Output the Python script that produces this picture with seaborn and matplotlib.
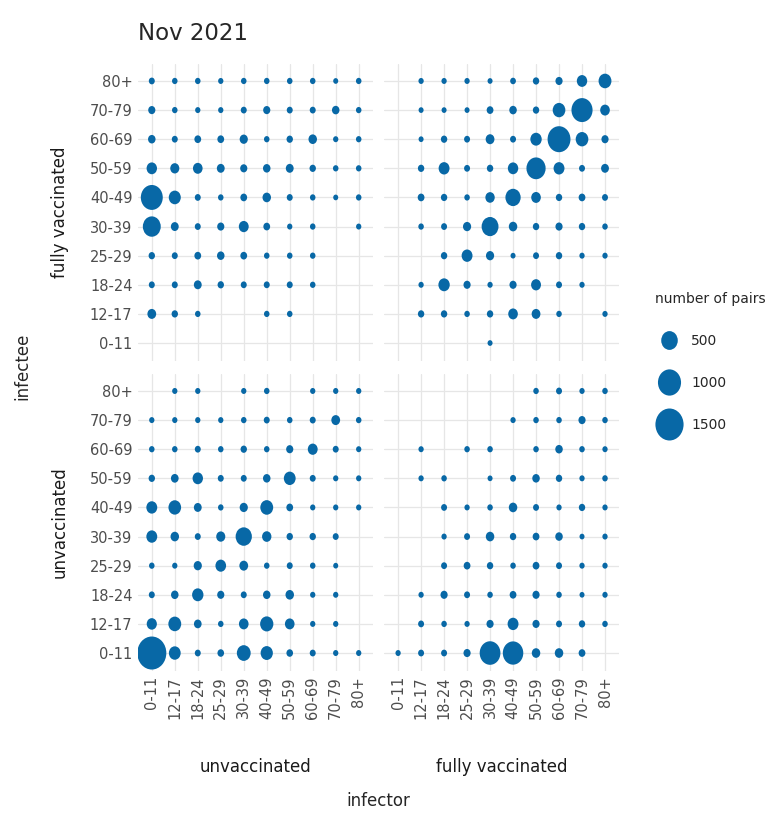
import numpy as np
import pandas as pd
import matplotlib
matplotlib.use("Agg")
import matplotlib.pyplot as plt
import seaborn as sns
from matplotlib.path import Path
from matplotlib.transforms import Affine2D
from matplotlib.lines import Line2D

# ---------------- data ----------------
ages = ["0-11", "12-17", "18-24", "25-29", "30-39", "40-49", "50-59", "60-69", "70-79", "80+"]
statuses = ["unvaccinated", "fully vaccinated"]
title = "Nov 2021"
legend_values = [500, 1000, 1500]
legend_title = "number of pairs"

# rows = infectee age (0-11 ... 80+), columns = infector age (0-11 ... 80+)
N = None
# infectee fully vaccinated, infector unvaccinated
fv_from_unvax = [
    [N, N, N, N, N, N, N, N, N, N],
    [120, 50, 30, N, N, 30, 30, N, N, N],
    [40, 40, 90, 50, 40, 40, 40, 30, N, N],
    [50, 40, 60, 80, 60, 30, 30, 30, N, N],
    [590, 90, 40, 70, 160, 60, 25, 30, N, 25],
    [900, 250, 40, 30, 60, 110, 40, 30, 20, 30],
    [180, 130, 150, 90, 70, 80, 90, 50, 30, 30],
    [80, 40, 60, 60, 100, 30, 50, 110, 25, 30],
    [70, 30, 25, 25, 40, 70, 40, 40, 80, 30],
    [40, 30, 30, 25, 30, 30, 30, 30, 20, 30],
]
# infectee fully vaccinated, infector fully vaccinated
fv_from_fv = [
    [N, N, N, N, 20, N, N, N, N, N],
    [N, 50, 50, 30, 50, 150, 120, 30, N, 25],
    [N, 25, 220, 70, 25, 70, 160, 40, 25, N],
    [N, N, 50, 200, 100, 20, 40, 50, 25, 25],
    [N, 30, 40, 100, 520, 110, 50, 70, 50, 30],
    [N, 60, 50, 30, 140, 420, 150, 50, 60, 40],
    [N, 50, 200, 40, 50, 180, 680, 200, 40, 90],
    [N, 20, 50, 40, 120, 40, 220, 980, 280, 70],
    [N, 20, 20, 20, 60, 80, 50, 280, 830, 150],
    [N, 25, 25, 25, 20, 35, 50, 70, 180, 290],
]
# infectee unvaccinated, infector unvaccinated
unvax_from_unvax = [
    [1600, 240, 40, 56, 340, 260, 56, 40, 25, 25],
    [170, 290, 85, 30, 150, 310, 150, 25, 25, N],
    [40, 80, 220, 70, 40, 80, 110, 25, 25, N],
    [30, 25, 100, 190, 120, 30, 40, 30, 20, N],
    [200, 110, 40, 130, 480, 140, 50, 50, 40, N],
    [200, 280, 90, 30, 100, 290, 60, 25, 25, 25],
    [50, 85, 180, 40, 40, 80, 240, 40, 25, 25],
    [30, 30, 40, 30, 50, 30, 70, 160, 40, 25],
    [25, 25, 25, 25, 30, 40, 30, 40, 120, 30],
    [N, 25, 25, N, 25, 30, N, 25, 25, 25],
]
# infectee unvaccinated, infector fully vaccinated
unvax_from_fv = [
    [25, 40, 40, 70, 800, 780, 110, 110, 60, N],
    [N, 40, 30, 25, 70, 200, 70, 40, 50, 30],
    [N, 25, 70, 40, 30, 60, 70, 30, 20, 25],
    [N, N, 40, 60, 50, 30, 60, 40, 25, 25],
    [N, N, 25, 40, 110, 50, 60, 80, 20, 25],
    [N, N, 40, 25, 30, 110, 40, 25, 50, 25],
    [N, 25, 30, N, 20, 40, 80, 50, 25, 30],
    [N, 25, N, 30, 30, N, 30, 80, 30, 25],
    [N, N, N, N, N, 25, 30, 30, 70, 30],
    [N, N, N, N, N, N, 30, 40, 25, 30],
]

panels = {
    ("fully vaccinated", "unvaccinated"): fv_from_unvax,
    ("fully vaccinated", "fully vaccinated"): fv_from_fv,
    ("unvaccinated", "unvaccinated"): unvax_from_unvax,
    ("unvaccinated", "fully vaccinated"): unvax_from_fv,
}

records = []
for (infectee_status, infector_status), grid in panels.items():
    for i, row in enumerate(grid):
        for j, v in enumerate(row):
            if v is not None:
                records.append(dict(infectee_status=infectee_status,
                                    infector_status=infector_status,
                                    infectee_age=ages[i], infector_age=ages[j],
                                    pairs=v))
df = pd.DataFrame(records)
pos = {a: k for k, a in enumerate(ages)}
df["x"] = df["infector_age"].map(pos)
df["y"] = df["infectee_age"].map(pos)

# ---------------- style ----------------
sns.set_theme(style="white")
plt.rcParams["font.family"] = ["DejaVu Sans"]

BLUE = "#0868a6"
TICK_COL = "#4d4d4d"
SIZES = (10, 600)
NORM = (0, 1700)

ell = Path.unit_circle().transformed(Affine2D().scale(0.88, 1.0))

W, H = 781, 816
fig = plt.figure(figsize=(W / 100, H / 100), dpi=100)

col_left = {"unvaccinated": 138, "fully vaccinated": 384.3}
row_top = {"fully vaccinated": 63.5, "unvaccinated": 373.5}
pw, ph = 234.5, 297

for row_status in ["fully vaccinated", "unvaccinated"]:
    for col_status in statuses:
        l = col_left[col_status]
        t = row_top[row_status]
        ax = fig.add_axes([l / W, 1 - (t + ph) / H, pw / W, ph / H])
        sub = df[(df.infectee_status == row_status) & (df.infector_status == col_status)]
        sns.scatterplot(data=sub, x="x", y="y", size="pairs", sizes=SIZES,
                        size_norm=NORM, color=BLUE, marker=ell, linewidth=0,
                        edgecolor="none", legend=False, ax=ax, zorder=3)
        ax.set_xlim(-0.6, 9.6)
        ax.set_ylim(-0.6, 9.6)
        ax.set_xticks(range(len(ages)))
        ax.set_yticks(range(len(ages)))
        ax.grid(True, color="#e6e6e6", lw=0.9)
        ax.set_axisbelow(True)
        for sp in ax.spines.values():
            sp.set_visible(False)
        ax.set_xlabel("")
        ax.set_ylabel("")
        ax.tick_params(length=0, labelsize=10.5, labelcolor=TICK_COL)
        if col_status == "unvaccinated":
            ax.set_yticklabels(ages)
            ax.tick_params(axis="y", pad=4)
        else:
            ax.set_yticklabels([])
        if row_status == "unvaccinated":
            ax.set_xticklabels(ages, rotation=90)
            ax.tick_params(axis="x", pad=4)
        else:
            ax.set_xticklabels([])

# strip labels (columns, bottom)
for col_status in statuses:
    cx = (col_left[col_status] + pw / 2) / W
    fig.text(cx, 1 - 767 / H, col_status, ha="center", va="center",
             fontsize=12, color="#1a1a1a")
# strip labels (rows, left)
for row_status in ["fully vaccinated", "unvaccinated"]:
    cy = 1 - (row_top[row_status] + ph / 2) / H
    fig.text(60 / W, cy, row_status, ha="center", va="center", rotation=90,
             fontsize=12, color="#1a1a1a")

fig.text(378 / W, 1 - 801 / H, "infector", ha="center", va="center", fontsize=12)
fig.text(22 / W, 1 - 366 / H, "infectee", ha="center", va="center",
         rotation=90, fontsize=12)
fig.text(138 / W, 1 - 34 / H, title, ha="left", va="center", fontsize=16.5)

# size legend using the same linear area mapping as the scatter
def size_of(v):
    return SIZES[0] + (v - NORM[0]) / (NORM[1] - NORM[0]) * (SIZES[1] - SIZES[0])

handles = [Line2D([], [], linestyle="", marker=ell, markersize=np.sqrt(size_of(v)),
                  markerfacecolor=BLUE, markeredgewidth=0) for v in legend_values]
leg = fig.legend(handles, [str(v) for v in legend_values], title=legend_title,
                 loc="upper left", bbox_to_anchor=(648 / W, 1 - 285 / H),
                 frameon=False, fontsize=10, title_fontsize=10,
                 labelspacing=2.02, handletextpad=0.6, borderpad=0,
                 alignment="left", handlelength=2.0)

fig.savefig("out.png", dpi=100)
